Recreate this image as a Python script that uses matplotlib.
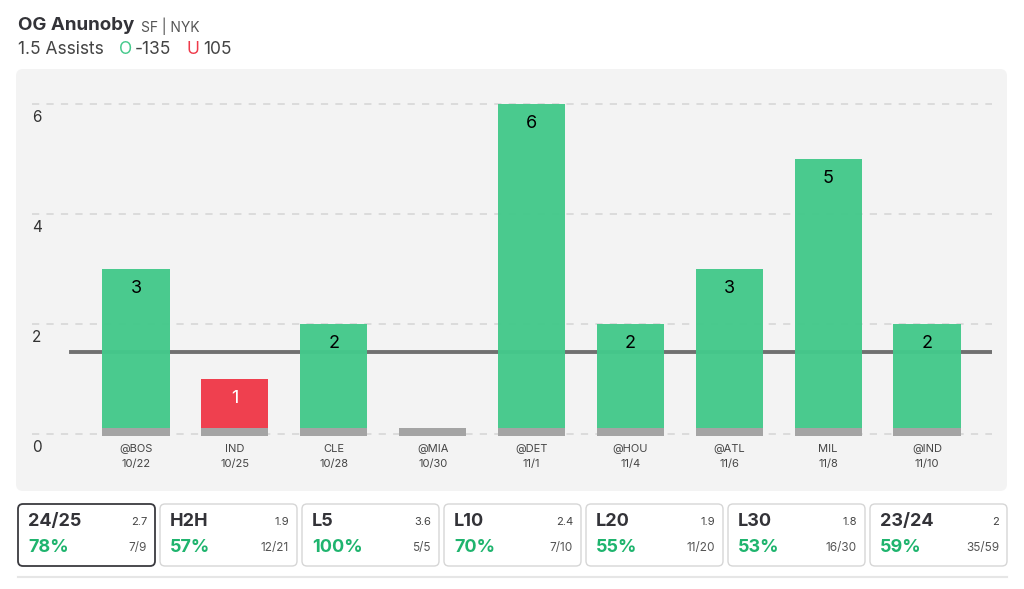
import matplotlib.pyplot as plt
from matplotlib.patches import FancyBboxPatch

plt.rcParams['font.family'] = ['Inter', 'DejaVu Sans']

# data
opponents = ["@BOS", "IND", "CLE", "@MIA", "@DET", "@HOU", "@ATL", "MIL", "@IND"]
dates = ["10/22", "10/25", "10/28", "10/30", "11/1", "11/4", "11/6", "11/8", "11/10"]
assists = [3, 1, 2, 0, 6, 2, 3, 5, 2]
line_value = 1.5
y_ticks = [0, 2, 4, 6]

card_titles = ["24/25", "H2H", "L5", "L10", "L20", "L30", "23/24"]
card_avgs = ["2.7", "1.9", "3.6", "2.4", "1.9", "1.8", "2"]
card_pcts = ["78%", "57%", "100%", "70%", "55%", "53%", "59%"]
card_hits = ["7/9", "12/21", "5/5", "7/10", "11/20", "16/30", "35/59"]

GREEN = "#44c98b"
RED = "#ef3a4a"
GRAY_BASE = "#a4a4a4"
TEXT_GREEN = "#1fb46e"
DARK = "#333338"

W, H = 1024, 589
fig = plt.figure(figsize=(W / 100, H / 100), dpi=100)
fig.patch.set_facecolor("white")

# background overlay in pixel coordinates
bg = fig.add_axes([0, 0, 1, 1])
bg.set_xlim(0, W)
bg.set_ylim(H, 0)
bg.axis("off")

bg.add_patch(FancyBboxPatch((16, 69), 991, 422, boxstyle="round,pad=0,rounding_size=7",
                            facecolor="#f3f3f3", edgecolor="none"))

# header
bg.text(18, 25, "OG Anunoby", fontsize=13.5, fontweight="bold", color=DARK, va="center")
bg.text(141, 26, "SF | NYK", fontsize=10, color="#555555", va="center")
bg.text(18, 49, "1.5 Assists", fontsize=12.5, color="#444444", va="center")
bg.text(119, 49, "O", fontsize=12.5, color=GREEN, va="center")
bg.text(135, 49, "-135", fontsize=12.5, color="#444444", va="center")
bg.text(187, 49, "U", fontsize=12.5, color=RED, va="center")
bg.text(203, 49, "105", fontsize=12.5, color="#444444", va="center")

# stat cards
card_w, gap, x0 = 137, 5, 18
for i, (t, a, p, h) in enumerate(zip(card_titles, card_avgs, card_pcts, card_hits)):
    cx = x0 + i * (card_w + gap)
    selected = i == 0
    bg.add_patch(FancyBboxPatch((cx, 504), card_w, 62, boxstyle="round,pad=0,rounding_size=5",
                                facecolor="white",
                                edgecolor="#3a3a3f" if selected else "#d6d6d6",
                                linewidth=1.3 if selected else 1.0))
    bg.text(cx + 10, 522, t, fontsize=13, fontweight="bold", color=DARK, va="center")
    bg.text(cx + card_w - 8, 522, a, fontsize=8, color="#444444", va="center", ha="right")
    bg.text(cx + 10, 548, p, fontsize=13, fontweight="bold", color=TEXT_GREEN, va="center")
    bg.text(cx + card_w - 8, 548, h, fontsize=8.5, color="#555555", va="center", ha="right")
bg.plot([18, 1007], [577, 577], color="#e6e6e6", linewidth=1.5)

# chart axes: y=0 at px 434, 55 px per unit
px_left, px_right, px_top, px_bot = 30, 992, 90, 470
ax = fig.add_axes([px_left / W, (H - px_bot) / H, (px_right - px_left) / W, (px_bot - px_top) / H])
ax.set_facecolor("none")
y0, ppu = 434, 55
ax.set_ylim((y0 - px_bot) / ppu, (y0 - px_top) / ppu)
spacing = (927 - 136) / 8
ax.set_xlim(-(136 - px_left) / spacing, 8 + (px_right - 927) / spacing)
ax.axis("off")

for t in y_ticks:
    ax.plot([-(136 - 32) / spacing, 8 + (992 - 927) / spacing], [t, t], color="#d9d9d9",
            linewidth=1.3, dashes=(4, 4), zorder=1)
    ax.text(-(136 - 37) / spacing, t - 0.24, str(t), fontsize=11, color="#333333",
            va="center", ha="center")

ax.plot([-(136 - 71) / spacing, 8 + (992 - 927) / spacing], [line_value, line_value],
        color="#707070", linewidth=2.8, zorder=2)

xs = list(range(len(assists)))
colors = [GREEN if v > line_value else RED for v in assists]
ax.bar(xs, assists, width=0.68, color=colors, alpha=0.97, zorder=3)
ax.bar(xs, 0.145, bottom=-0.035, width=0.68, color=GRAY_BASE, zorder=4)

for x, v, opp, d in zip(xs, assists, opponents, dates):
    if v > 0:
        ax.text(x, v - 0.35, str(v), fontsize=13, va="center", ha="center",
                color="black" if v > line_value else "white", zorder=5)
    ax.text(x, -0.28, opp, fontsize=8, color="#444444", va="center", ha="center")
    ax.text(x, -0.54, d, fontsize=8, color="#444444", va="center", ha="center")

fig.savefig("out.png", dpi=100, facecolor="white")
